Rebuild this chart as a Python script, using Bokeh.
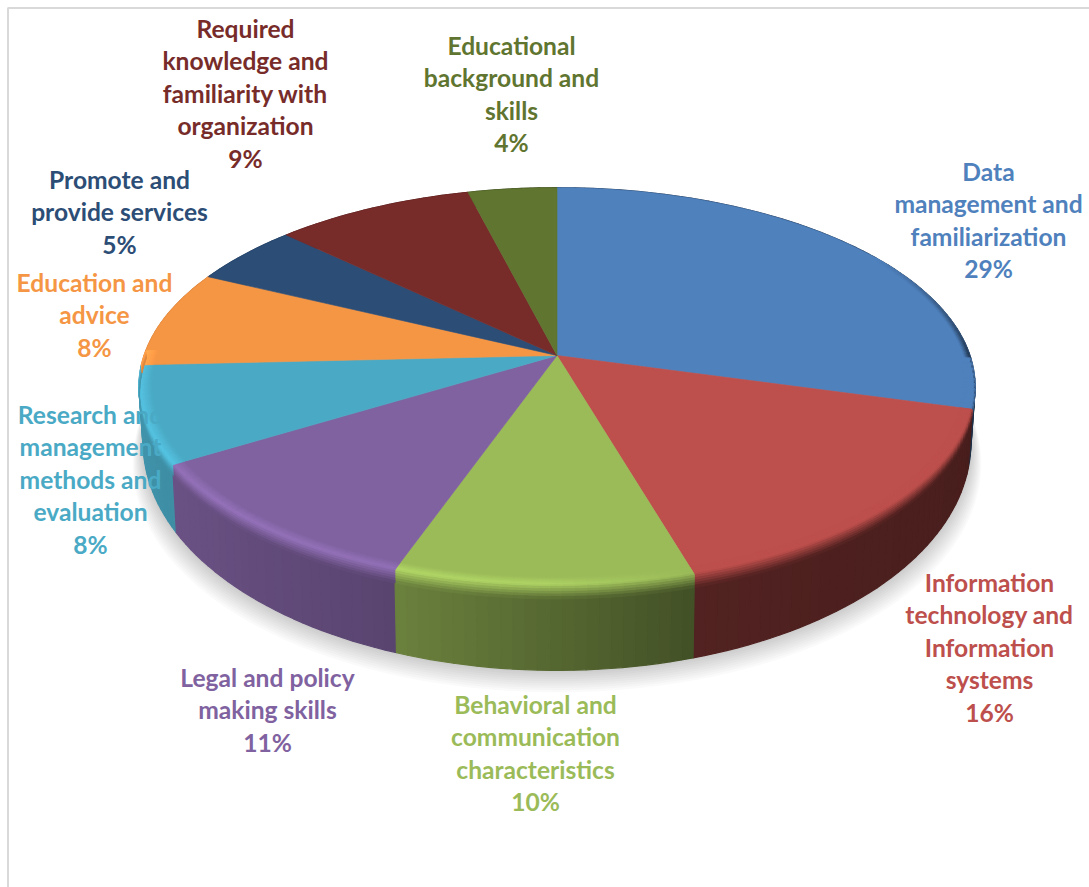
import math
from bokeh.plotting import figure
from bokeh.models import ColumnDataSource, Range1d
from bokeh.core.properties import value
from bokeh.embed import file_html
from bokeh.resources import INLINE
import numpy as np

# Share of each competency group, clockwise from twelve o'clock
categories = [
    ["Data", "management and", "familiarization"],
    ["Information", "technology and", "Information", "systems"],
    ["Behavioral and", "communication", "characteristics"],
    ["Legal and policy", "making skills"],
    ["Research and", "management", "methods and", "evaluation"],
    ["Education and", "advice"],
    ["Promote and", "provide services"],
    ["Required", "knowledge and", "familiarity with", "organization"],
    ["Educational", "background and", "skills"],
]
shares = [29, 16, 10, 11, 8, 8, 5, 9, 4]
colours = ["#4f81bd", "#bd4f4c", "#9bbb59", "#8062a0", "#4aaac5",
           "#f59645", "#2c4d75", "#772c2a", "#5f7530"]

# Where each label block is centred and where its first line sits
label_centre_x = [988, 989, 535, 267, 90, 94, 119, 245, 511]
label_first_y = [171, 582, 704, 677, 414, 282, 179, 28, 45]
LINE_PITCH = 32.4

WIDTH, HEIGHT = 1089, 887
CX, CY = 556.5, 355.0
RX, RY, PERSP = 413.0, 194.0, 0.156
TWIST = 0.028  # slight skew of the camera, strongest at the front of the pie


def turned(theta):
    return theta + TWIST * np.sin(theta / 2) ** 2


def project(theta, r=1.0):
    """Perspective projection of a point on the pie's top face."""
    a = turned(theta)
    px, py = r * np.sin(a), r * np.cos(a)
    w = 1 + PERSP * py
    return CX + RX * px / w, CY - RY * py / w


def lower_rim(theta, r=1.0):
    """The matching point on the bottom edge of the pie's wall."""
    sx, sy = project(theta, r)
    py = np.cos(turned(theta))
    return CX + (sx - CX) * 0.99, sy + (50 - 35 * py)


def mix(a, b, t):
    return tuple(a[i] + (b[i] - a[i]) * t for i in range(3))


def rgb(hex_colour):
    return tuple(int(hex_colour[i:i + 2], 16) for i in (1, 3, 5))


def css(c):
    return "#%02x%02x%02x" % tuple(int(max(0, min(255, round(v)))) for v in c)


def wall_factor(theta):
    return float(np.interp(math.sin(theta), [-1, -0.84, -0.33, 0.31, 1],
                           [0.88, 0.83, 0.70, 0.43, 0.38]))


def highlight_gain(theta):
    return float(np.interp(math.sin(theta), [-1, -0.7, 0.0, 0.3, 1],
                           [1.14, 1.17, 1.14, 1.0, 1.0]))


p = figure(width=WIDTH, height=HEIGHT, output_backend="svg", toolbar_location=None,
           x_range=Range1d(0, WIDTH), y_range=Range1d(HEIGHT, 0),
           min_border=0, outline_line_color=None, background_fill_color="white")
p.axis.visible = False
p.grid.visible = False

# Frame of the chart area
p.line([1089, 7.5, 7.5], [7.5, 7.5, 887], line_color="#d9d9d9", line_width=2)

# Slice boundaries in radians
edges = np.concatenate([[0], np.cumsum(shares)]) / sum(shares) * 2 * math.pi

# Soft shadow below the pie
full = np.linspace(0, 2 * math.pi, 361)
for n in range(10, 0, -1):
    sx, sy = lower_rim(full)
    p.patch(CX + (sx - CX) * (1 + 0.0025 * n), sy + 2.2 * n,
            fill_color="black", fill_alpha=0.02, line_color=None)

# Wall of the pie, split into thin quads so its shading can vary, far ones first
quads = []
for s, colour in enumerate(colours):
    steps = max(4, int(shares[s] * 2.5))
    ang = np.linspace(edges[s], edges[s + 1], steps + 1)
    base = rgb(colour)
    for a0, a1 in zip(ang[:-1], ang[1:]):
        mid = (a0 + a1) / 2
        tx0, ty0 = project(a0)
        tx1, ty1 = project(a1)
        bx0, by0 = lower_rim(a0)
        bx1, by1 = lower_rim(a1)
        shade = css(tuple(v * wall_factor(mid) for v in base))
        quads.append((math.cos(mid), [tx0, tx1, bx1, bx0], [ty0, ty1, by1, by0], shade))
quads.sort(key=lambda q: -q[0])
p.patches([q[1] for q in quads], [q[2] for q in quads], fill_color=[q[3] for q in quads],
          line_color=[q[3] for q in quads], line_width=1.2)

# Top faces of the slices
for s, colour in enumerate(colours):
    ang = np.linspace(edges[s], edges[s + 1], 80)
    sx, sy = project(ang)
    p.patch(np.concatenate([[CX], sx]), np.concatenate([[CY], sy]),
            fill_color=colour, line_color=colour, line_width=0.6)


def bevel_point(a, t):
    # inner part of the strip stays on the face, outer part runs down the wall
    if t <= 0.55:
        return project(a, 0.97 + 0.03 * t / 0.55)
    tx, ty = project(a)
    bx, by = lower_rim(a)
    k = (t - 0.55) / 0.45 * 0.16
    return tx + (bx - tx) * k, ty + (by - ty) * k


# Rounded bevel between face and wall
BANDS = 12
xs, ys, fills = [], [], []
for s, colour in enumerate(colours):
    steps = max(4, int(shares[s] * 2.5))
    ang = np.linspace(edges[s], edges[s + 1], steps + 1)
    base = rgb(colour)
    for a0, a1 in zip(ang[:-1], ang[1:]):
        mid = (a0 + a1) / 2
        wall = tuple(v * wall_factor(mid) for v in base)
        if math.cos(mid) > 0:
            # back of the pie: only the far right edge darkens, in a thin band
            if math.sin(mid) < 0 or math.cos(mid) > 0.55:
                continue
            rim = mix(wall, base, math.cos(mid) / 0.55)
            for b in range(4):
                r0, r1 = 0.985 + 0.00375 * b, 0.985 + 0.00375 * (b + 1)
                px0, py0 = project(a0, r0)
                px1, py1 = project(a1, r0)
                qx1, qy1 = project(a1, r1)
                qx0, qy0 = project(a0, r1)
                xs.append([px0, px1, qx1, qx0])
                ys.append([py0, py1, qy1, qy0])
                fills.append(css(mix(base, rim, (b + 0.5) / 4)))
            continue
        glow = tuple(v * highlight_gain(mid) for v in base)
        for b in range(BANDS):
            t0, t1 = b / BANDS, (b + 1) / BANDS
            tc = (t0 + t1) / 2
            c = mix(base, glow, tc / 0.5) if tc < 0.5 else mix(glow, wall, (tc - 0.5) / 0.5)
            p00, p01 = bevel_point(a0, t0), bevel_point(a1, t0)
            p11, p10 = bevel_point(a1, t1), bevel_point(a0, t1)
            xs.append([p00[0], p01[0], p11[0], p10[0]])
            ys.append([p00[1], p01[1], p11[1], p10[1]])
            fills.append(css(c))
p.patches(xs, ys, fill_color=fills, line_color=fills, line_width=0.8)

# Data labels: wrapped category name followed by the share
lx, ly, lt, lc = [], [], [], []
for s, lines in enumerate(categories):
    for i, line in enumerate(lines + [f"{shares[s]}%"]):
        lx.append(label_centre_x[s])
        ly.append(label_first_y[s] + i * LINE_PITCH)
        lt.append(line)
        lc.append(colours[s])
source = ColumnDataSource(dict(x=lx, y=ly, text=lt, colour=lc))
p.text("x", "y", text="text", source=source, text_color="colour",
       text_font=value("Lato"), text_font_style="bold", text_font_size="24.6px",
       text_align="center", text_baseline="middle")

open("out.html", "w").write(file_html(p, INLINE))
